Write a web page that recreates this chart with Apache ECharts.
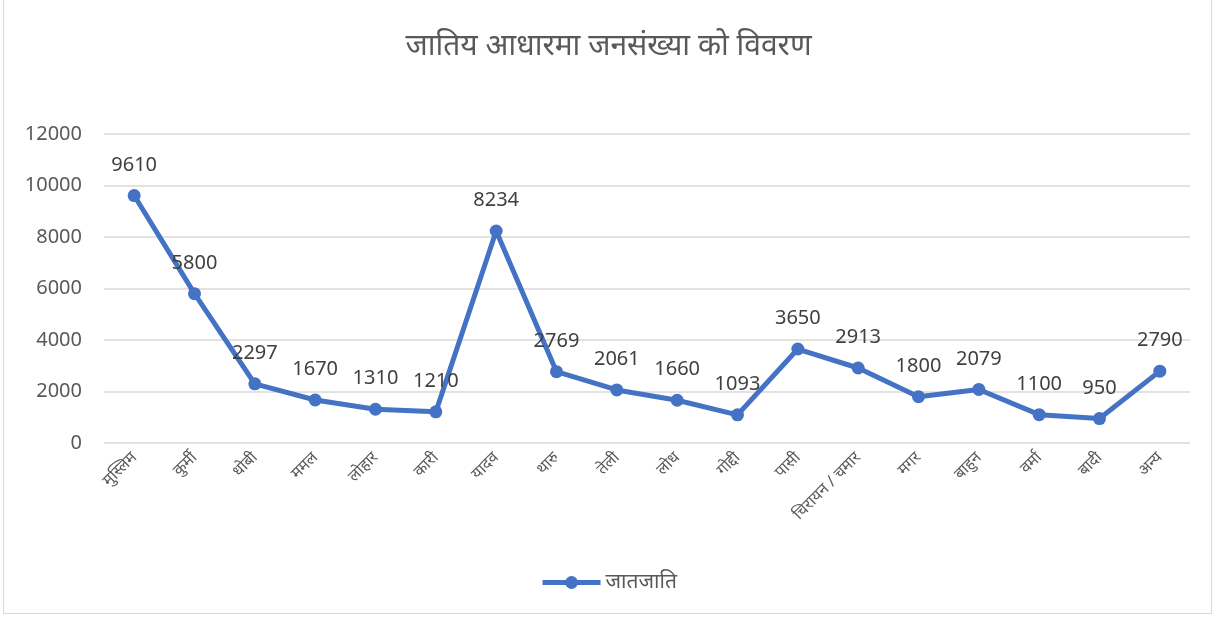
<!DOCTYPE html>
<html><head><meta charset="utf-8">
<script src="https://cdn.jsdelivr.net/npm/echarts@6/dist/echarts.min.js"></script>
<style>html,body{margin:0;padding:0;background:#fff}
#frame{position:absolute;left:3px;top:-2px;width:1209px;height:616px;border:1px solid #d9d9d9;box-sizing:border-box}
#c{position:absolute;left:0;top:0;width:1217px;height:618px}</style>
</head><body><div id="frame"></div><div id="c"></div>
<script>
const categories = ['मुस्लिम','कुर्मी','धोबी','ममल','लोहार','कारी','यादव','थारु','तेली','लोध','गोद्दी','पासी','चिरायन / चमार','मगर','बाहुन','वर्मा','बादी','अन्य'];
const values = [9610,5800,2297,1670,1310,1210,8234,2769,2061,1660,1093,3650,2913,1800,2079,1100,950,2790];
const yTicks = [0,2000,4000,6000,8000,10000,12000];
const seriesName = 'जातजाति';
const titleText = 'जातिय आधारमा जनसंख्या को विवरण';
const font = '"Noto Sans","Noto Sans Devanagari","Liberation Sans",sans-serif';
const chart = echarts.init(document.getElementById('c'));
chart.setOption({
  animation:false,
  title:{text:titleText,left:'center',top:26,textStyle:{fontFamily:font,fontSize:30,fontWeight:'normal',color:'#595959'}},
  legend:{data:[seriesName],bottom:20,left:'center',itemWidth:58,itemHeight:16,itemGap:4,
    itemStyle:{color:'#4472C4'},lineStyle:{width:5},
    textStyle:{fontFamily:font,fontSize:21,color:'#595959'}},
  grid:{left:104,right:27,top:134,bottom:175,containLabel:false},
  xAxis:{type:'category',data:categories,boundaryGap:true,
    axisLine:{show:false},axisTick:{show:false},
    axisLabel:{rotate:45,interval:0,fontFamily:font,fontSize:16,color:'#595959',margin:12}},
  yAxis:{type:'value',min:yTicks[0],max:yTicks[yTicks.length-1],interval:2000,
    axisLine:{show:false},axisTick:{show:false},
    axisLabel:{fontFamily:font,fontSize:20,color:'#595959',margin:22,formatter:v=>String(v)},
    splitLine:{lineStyle:{color:'#d9d9d9',width:1.5}}},
  series:[{name:seriesName,type:'line',data:values,symbol:'circle',symbolSize:13,
    itemStyle:{color:'#4472C4'},lineStyle:{color:'#4472C4',width:5},
    label:{show:true,position:'top',distance:14,fontFamily:font,fontSize:20,color:'#404040'}}]
});
</script></body></html>
